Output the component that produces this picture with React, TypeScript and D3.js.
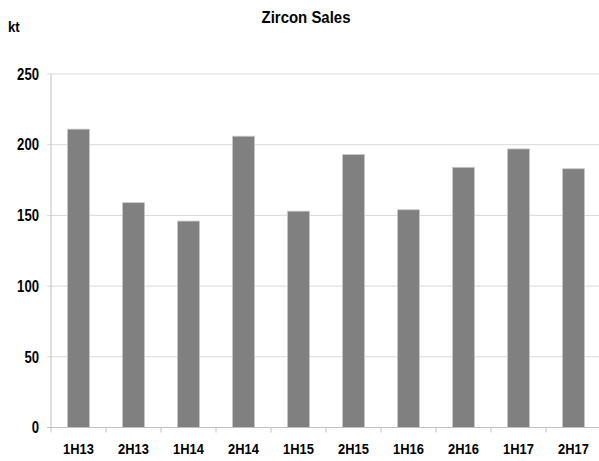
import * as d3 from "d3";
import React from "react";

// half-year periods and zircon sales (kt)
const periods = ["1H13", "2H13", "1H14", "2H14", "1H15", "2H15", "1H16", "2H16", "1H17", "2H17"];
const sales = [211, 159, 146, 206, 153, 193, 154, 184, 197, 183];
const yTicks = [0, 50, 100, 150, 200, 250];

const W = 599;
const H = 461;
const left = 51;
const right = 601;
const top = 74;
const bottom = 427.5;
const font = "'Liberation Sans', Arial, sans-serif";

// condensed-looking bold label
const Label = ({ x, y, size, sx = 0.84, anchor = "middle", dy = "0", children }: any) => (
  <text
    transform={`translate(${x},${y}) scale(${sx},1)`}
    dy={dy}
    textAnchor={anchor}
    fontFamily={font}
    fontWeight="bold"
    fontSize={size}
    fill="#000"
  >
    {children}
  </text>
);

const App = () => {
  const x = d3.scaleBand<string>().domain(periods).range([left, right]).paddingInner(0.6).paddingOuter(0.3);
  const y = d3.scaleLinear().domain([0, 250]).range([bottom, top]);
  const step = x.step();

  return (
    <svg width={W} height={H} style={{ position: "absolute", left: 0, top: 0, background: "#fff" }}>
      <Label x={306} y={23} size={17} sx={0.88}>
        Zircon Sales
      </Label>
      <Label x={8} y={32} size={15} sx={0.88} anchor="start">
        kt
      </Label>

      {/* gridlines + y labels */}
      {yTicks.map((t) => (
        <g key={t}>
          {t > 0 && <line x1={47} x2={W} y1={y(t)} y2={y(t)} stroke="#d9d9d9" strokeWidth={1} />}
          <Label x={39} y={y(t)} size={16} sx={0.82} anchor="end" dy="0.36em">
            {t}
          </Label>
        </g>
      ))}

      {/* bars */}
      {periods.map((p, i) => (
        <rect
          key={p}
          x={x(p)}
          y={y(sales[i])}
          width={x.bandwidth()}
          height={bottom - y(sales[i])}
          fill="#808080"
          stroke="#c8c8c8"
          strokeWidth={0.8}
        />
      ))}

      {/* axes */}
      <line x1={left} x2={left} y1={top} y2={bottom} stroke="#c0c0c0" />
      <line x1={47} x2={W} y1={bottom} y2={bottom} stroke="#c0c0c0" />
      {periods.map((p, i) => (
        <line key={p} x1={left + step * i} x2={left + step * i} y1={bottom} y2={bottom + 5} stroke="#c0c0c0" />
      ))}
      {periods.map((p) => (
        <Label key={p} x={(x(p) as number) + x.bandwidth() / 2} y={454} size={15} sx={0.86}>
          {p}
        </Label>
      ))}
    </svg>
  );
};

export default App;
